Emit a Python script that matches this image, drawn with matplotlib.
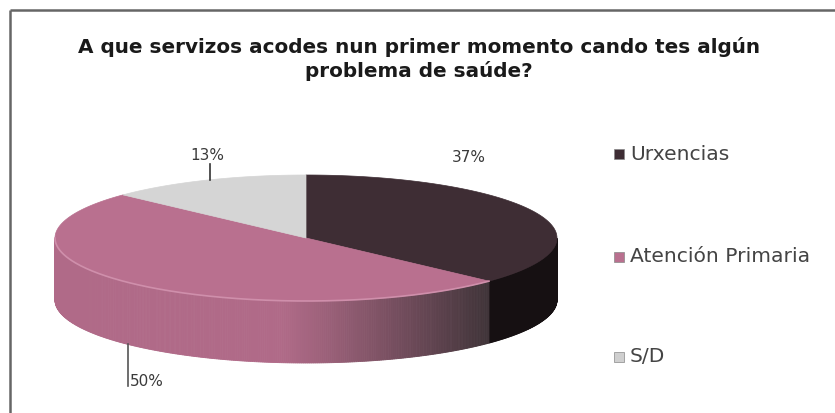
import numpy as np
import matplotlib
matplotlib.use("Agg")
import matplotlib.pyplot as plt
from matplotlib.patches import Polygon, Rectangle
import matplotlib.colors as mcolors

# ---- data ----
categories = ["Urxencias", "Atención Primaria", "S/D"]
values = [37, 50, 13]
pct_labels = ["37%", "50%", "13%"]
title = "A que servizos acodes nun primer momento cando tes algún\nproblema de saúde?"

top_colors = ["#3e2d34", "#b9708f", "#d5d5d5"]
side_dark = ["#161012", "#3c3236", "#8a8a8a"]

plt.rcParams['font.family'] = ['DejaVu Sans']

W, H = 835, 413
fig = plt.figure(figsize=(W / 100, H / 100), dpi=100)
ax = fig.add_axes([0, 0, 1, 1])
ax.set_xlim(0, W)
ax.set_ylim(H, 0)
ax.axis('off')

# frame
ax.plot([10, W], [9.5, 9.5], color="#666666", lw=1.8, solid_capstyle='butt')
ax.plot([10, 10], [9.5, H], color="#666666", lw=1.8, solid_capstyle='butt')

ax.text(419, 59, title, ha='center', va='center', fontsize=14.4,
        fontweight='bold', color='#1a1a1a', linespacing=1.2)

# pie geometry (pixels)
cx, cy, rx, ry, depth = 306, 238, 251, 63, 62

def pt(theta, dy=0.0):
    return cx + rx * np.cos(theta), cy - ry * np.sin(theta) + dy

total = float(sum(values))
start = np.pi / 2
bounds = []
a = start
for v in values:
    b = a - 2 * np.pi * v / total
    bounds.append((a, b))
    a = b

# side walls (front half: sin(theta) < 0)
pink = np.array(mcolors.to_rgb(top_colors[1]))
for i, (a0, a1) in enumerate(bounds):
    ths = np.linspace(a0, a1, 400)
    for t0, t1 in zip(ths[:-1], ths[1:]):
        tm = 0.5 * (t0 + t1)
        if np.sin(tm) > 0.0:
            continue
        c = np.cos(tm)
        if i == 1:
            s = np.clip((c + 0.1) / 0.85, 0, 1) ** 1.1
            col = (1 - s) * (pink * 0.95) + s * np.array(mcolors.to_rgb(side_dark[1]))
        elif i == 0:
            col = np.array(mcolors.to_rgb(side_dark[0]))
        else:
            col = np.array(mcolors.to_rgb(side_dark[2]))
        p0 = pt(t0); p1 = pt(t1)
        poly = [p0, p1, (p1[0], p1[1] + depth), (p0[0], p0[1] + depth)]
        ax.add_patch(Polygon(poly, closed=True, facecolor=col, edgecolor=col,
                             lw=0.6, zorder=2))

# top faces
for i, (a0, a1) in enumerate(bounds):
    ths = np.linspace(a0, a1, 200)
    xs, ys = pt(ths)
    poly = [(cx, cy)] + list(zip(xs, ys))
    ax.add_patch(Polygon(poly, closed=True, facecolor=top_colors[i],
                         edgecolor=top_colors[i], lw=0.5, zorder=3))

# light rim on the pink front edge
ths = np.linspace(bounds[1][0], -np.pi, 200)
xs, ys = pt(ths)
ax.plot(xs, ys, color="#cf8fab", lw=1.2, zorder=4)

# percent labels
lab_col = "#3a3a3a"
ax.text(452, 157, pct_labels[0], ha='left', va='center', fontsize=11, color=lab_col)
ax.text(190, 156, pct_labels[2], ha='left', va='center', fontsize=11, color=lab_col)
ax.plot([210, 210], [164, 180], color="#333333", lw=1.2, zorder=5)
ax.plot([128, 128], [344, 386], color="#555555", lw=1.2, zorder=5)
ax.text(130, 381, pct_labels[1], ha='left', va='center', fontsize=11, color=lab_col)

# legend
leg_y = [154, 257, 357]
leg_sq = ["#3e2d34", "#b9708f", "#cfcfcf"]
for c, y, lab in zip(leg_sq, leg_y, categories):
    ax.add_patch(Rectangle((614, y - 5), 9.5, 9.5, facecolor=c, edgecolor='#888888', lw=0.5))
    ax.text(630, y, lab, ha='left', va='center', fontsize=14.6, color='#444444')

fig.savefig("out.png", dpi=100)
